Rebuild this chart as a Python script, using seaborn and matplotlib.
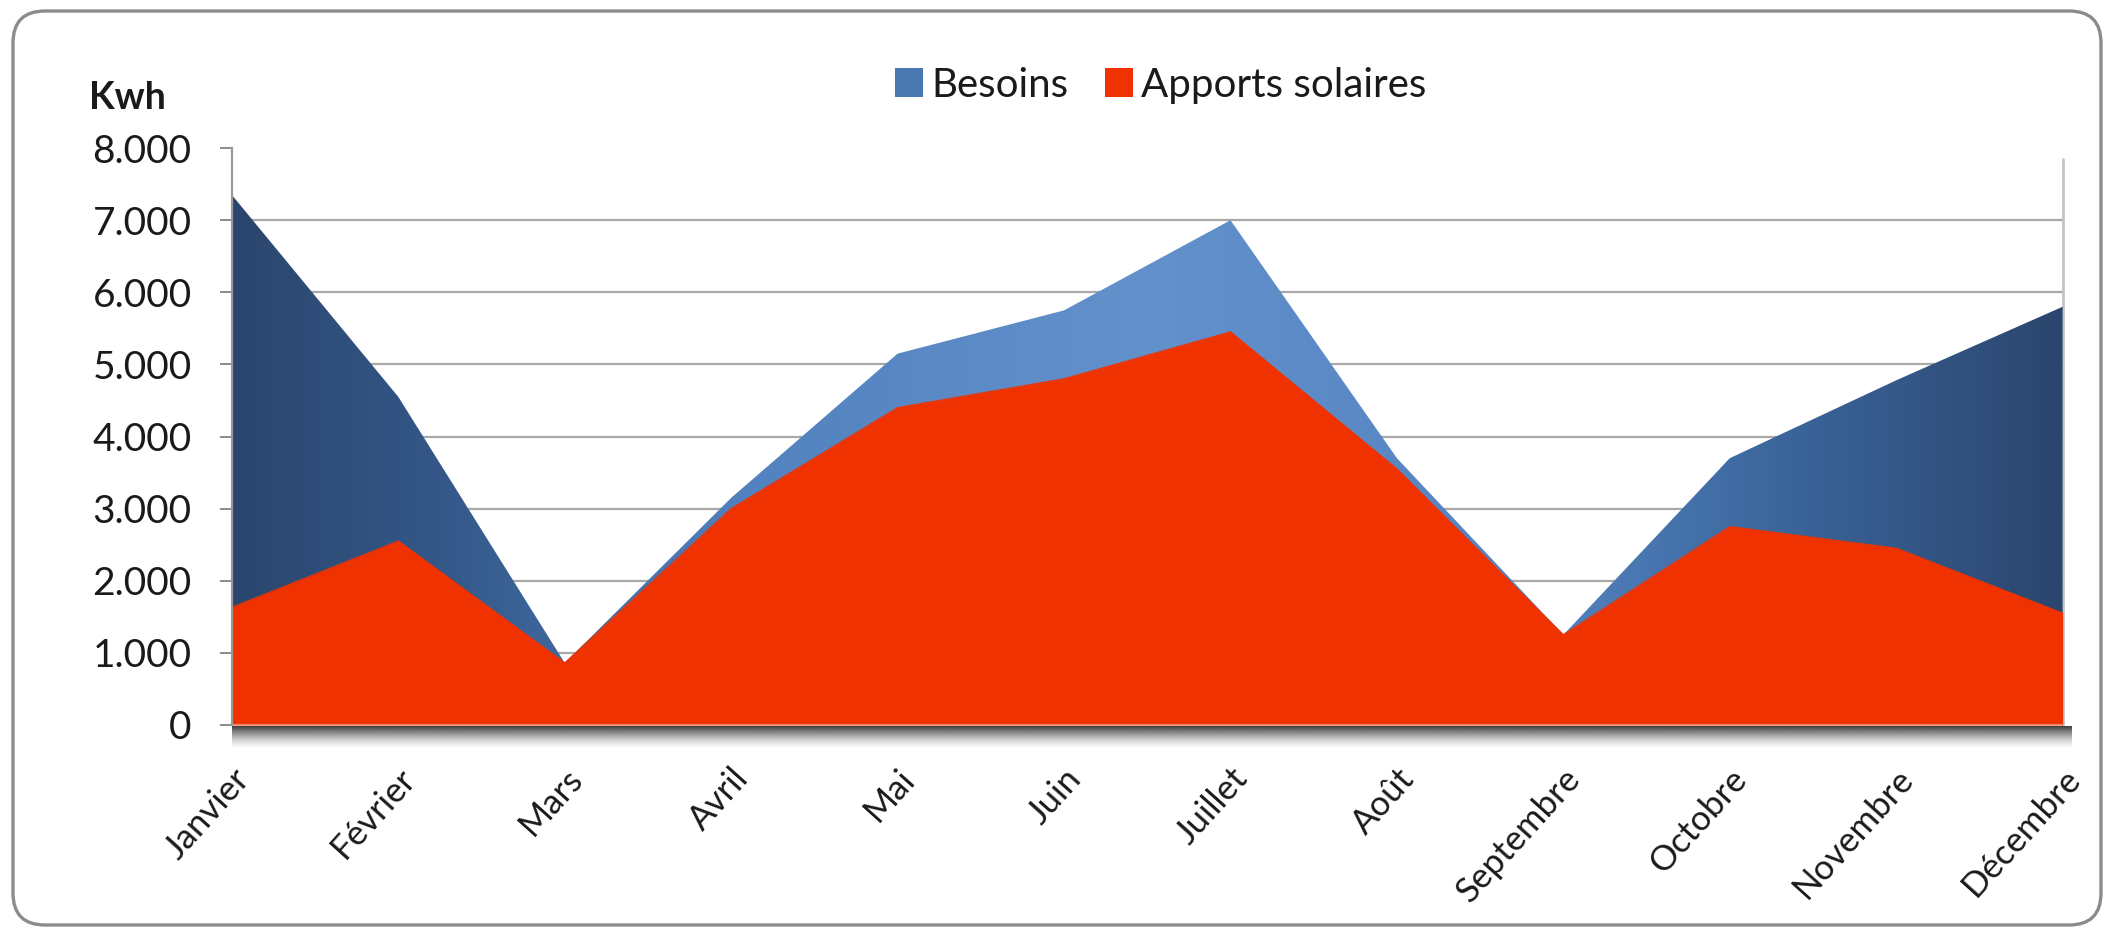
import numpy as np
import pandas as pd
import matplotlib
matplotlib.use("Agg")
import matplotlib.pyplot as plt
import matplotlib.transforms as mtransforms
from matplotlib.colors import LinearSegmentedColormap, to_rgb
from matplotlib.patches import FancyBboxPatch, Patch
import seaborn as sns

# Monthly energy balance (kWh)
mois = ["Janvier", "Février", "Mars", "Avril", "Mai", "Juin", "Juillet",
        "Août", "Septembre", "Octobre", "Novembre", "Décembre"]
besoins = [7350, 4550, 860, 3150, 5150, 5750, 7000, 3700, 1250, 3700, 4780, 5800]
apports_solaires = [1630, 2550, 860, 3000, 4400, 4800, 5450, 3550, 1250, 2750, 2450, 1550]
y_ticks = [0, 1000, 2000, 3000, 4000, 5000, 6000, 7000, 8000]
y_tick_labels = ["0", "1.000", "2.000", "3.000", "4.000", "5.000", "6.000", "7.000", "8.000"]

df = pd.DataFrame({"x": np.arange(len(mois)), "mois": mois,
                   "Besoins": besoins, "Apports solaires": apports_solaires})

sns.set_theme(style="white")
plt.rcParams["font.family"] = ["Lato", "DejaVu Sans"]

RED = "#f03200"
BLUE_LEG = "#4a78b0"

fig = plt.figure(figsize=(21.14, 9.35), dpi=100)
ax = fig.add_axes([0.1097, 0.2246, 0.866, 0.617])
ax.set_facecolor("white")

# horizontal grid lines
for v in y_ticks[1:-1]:
    ax.axhline(v, color="#a8a8a8", lw=1.6, zorder=0)

# Besoins area with a horizontal blue gradient clipped to its outline
poly = ax.fill_between(df["x"], 0, df["Besoins"], facecolor="none", lw=0, zorder=1)
blue_cmap = LinearSegmentedColormap.from_list(
    "besoins",
    [(0.0, "#2b466e"), (0.12, "#35598a"), (0.28, "#5282bf"), (0.5, "#6391cc"),
     (0.72, "#5282bf"), (0.86, "#3a6398"), (1.0, "#2b466e")])
grad = np.linspace(0, 1, 512).reshape(1, -1)
im = ax.imshow(grad, extent=[0, 11, 0, 8000], aspect="auto", cmap=blue_cmap,
               origin="lower", zorder=2, interpolation="bilinear")
im.set_clip_path(poly.get_paths()[0], transform=ax.transData)

# Apports solaires area in front
ax.fill_between(df["x"], 0, df["Apports solaires"], color=RED, lw=0, zorder=3)
sns.lineplot(data=df, x="x", y="Apports solaires", color=RED, lw=1.0, ax=ax,
             zorder=3, legend=False)

# floor edge and its shadow
ax.axhline(0, color="#e8806a", lw=1.6, zorder=4)
shadow = np.zeros((64, 1, 4))
shadow[..., :3] = to_rgb("#1c1c1c")
shadow[:, 0, 3] = np.linspace(0.0, 0.9, 64) ** 1.5
ax.imshow(shadow, extent=[0, 11.05, -330, -20], aspect="auto", origin="lower",
          zorder=4, clip_on=False)

# right wall
ax.plot([11, 11], [0, 7850], color="#c4c4c4", lw=2.0, zorder=1, clip_on=False)

ax.set_xlim(0, 11)
ax.set_ylim(0, 8000)

# axes styling
for s in ["top", "right", "bottom"]:
    ax.spines[s].set_visible(False)
ax.spines["left"].set_color("#9a9a9a")
ax.spines["left"].set_linewidth(1.6)
ax.spines["left"].set_zorder(5)

ax.set_yticks(y_ticks)
ax.set_yticklabels(y_tick_labels)
ax.tick_params(axis="y", direction="out", length=9, width=1.4, color="#8a8a8a",
               pad=20, labelsize=28, labelcolor="#1a1a1a", left=True)
ax.set_xticks(df["x"])
ax.set_xticklabels(mois, rotation=48, ha="right", va="top", rotation_mode="anchor")
ax.tick_params(axis="x", length=0, pad=27, labelsize=25, labelcolor="#1a1a1a")
offset = mtransforms.ScaledTranslation(0.0, 0, fig.dpi_scale_trans)
for lab in ax.get_xticklabels():
    lab.set_transform(lab.get_transform() + offset)
ax.set_xlabel("")
ax.set_ylabel("")
ax.grid(False)

# unit label
fig.text(0.042, 0.895, "Kwh", fontsize=27, fontweight="bold", color="#1a1a1a",
         ha="left", va="center")

# legend
handles = [Patch(facecolor=BLUE_LEG, edgecolor="none", label="Besoins"),
           Patch(facecolor=RED, edgecolor="none", label="Apports solaires")]
fig.legend(handles=handles, loc="center", bbox_to_anchor=(0.549, 0.909), ncol=2,
           frameon=False, fontsize=29, handlelength=0.7, handleheight=0.7,
           handletextpad=0.2, columnspacing=0.9, labelcolor="#1a1a1a")

# rounded outer frame
frame = FancyBboxPatch((13, 10), 2088, 914,
                       boxstyle="round,pad=0,rounding_size=32",
                       facecolor="none", edgecolor="#8c8c8c", lw=2.4,
                       transform=mtransforms.IdentityTransform(), zorder=10)
fig.patches.append(frame)

fig.savefig("out.png", dpi=100, facecolor="white")
